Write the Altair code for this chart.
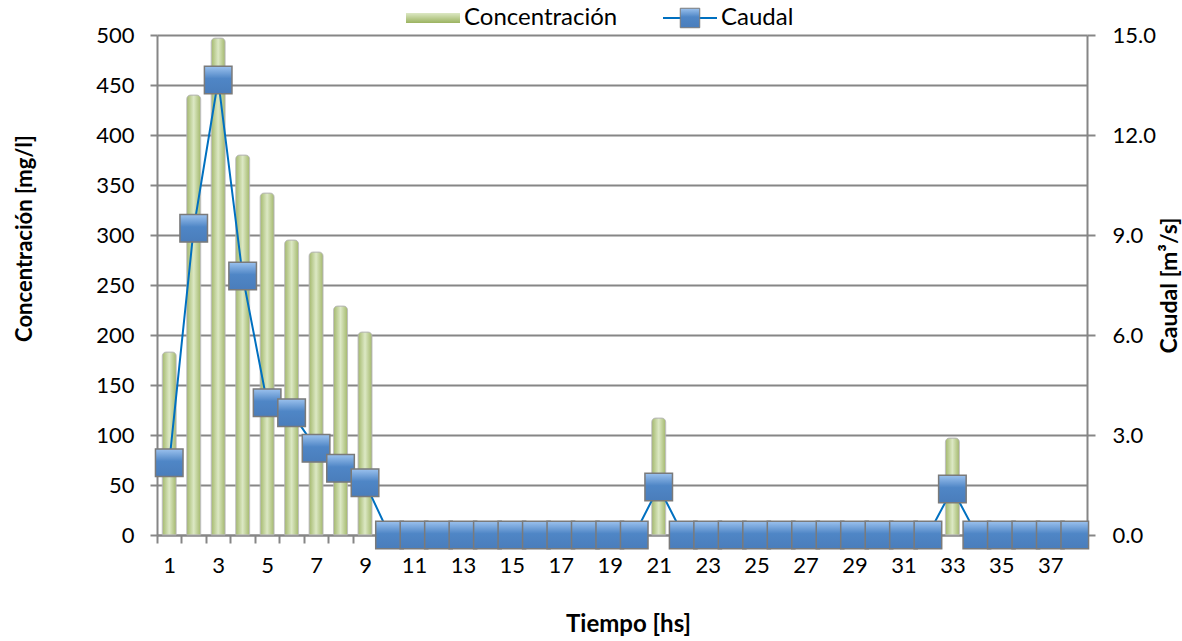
import altair as alt
import pandas as pd

tiempo = list(range(1, 39))
concentracion = [183, 440, 497, 380, 342, 295, 283, 229, 203] + [0] * 11 + [117] + [0] * 11 + [97] + [0] * 5
caudal = [2.17, 9.2, 13.65, 7.77, 3.97, 3.67, 2.6, 2.0, 1.57] + [0] * 11 + [1.44] + [0] * 11 + [1.38] + [0] * 5
conc_ticks = list(range(0, 501, 50))
caudal_ticks = [0, 3, 6, 9, 12, 15]

df = pd.DataFrame({"Tiempo": tiempo, "Concentracion": concentracion, "Caudal": caudal})

FONT = "Lato"
GRID = "#868686"

x_enc = alt.X(
    "Tiempo:O",
    title="Tiempo [hs]",
    scale=alt.Scale(paddingInner=0, paddingOuter=0),
    axis=alt.Axis(
        labelAngle=0, values=tiempo, labelExpr="datum.value % 2 == 1 ? datum.label : ''",
        tickBand="extent", tickSize=8, tickColor=GRID, tickWidth=2,
        domainColor=GRID, domainWidth=2, labelPadding=12,
        titleX=471, titleY=89, titleBaseline="middle", titleAlign="center",
        labelFontSize=22, titleFontSize=24, titleFontWeight="bold",
        labelFont=FONT, titleFont=FONT,
        labelColor="#000", titleColor="#000", grid=False,
    ),
)

bar_fill = alt.Gradient(
    gradient="linear", x1=0, x2=1, y1=0, y2=0,
    stops=[alt.GradientStop(offset=0, color="#a3b86c"),
           alt.GradientStop(offset=0.5, color="#dce8c4"),
           alt.GradientStop(offset=1, color="#a3b86c")],
)
bars = alt.Chart(df).mark_bar(
    size=14, fill=bar_fill, stroke="#b5b5b5", strokeWidth=0.8,
    cornerRadiusTopLeft=4, cornerRadiusTopRight=4,
).encode(
    x=x_enc,
    y=alt.Y(
        "Concentracion:Q", title="Concentración  [mg/l]",
        scale=alt.Scale(domain=[0, 500], nice=False),
        axis=alt.Axis(
            values=conc_ticks, orient="left", grid=True, gridColor=GRID, gridWidth=2,
            tickSize=7, tickColor=GRID, tickWidth=2, domainColor=GRID, domainWidth=2,
            labelPadding=16, labelFontSize=22, titleFontSize=22,
            titleX=-133, titleY=203, titleAngle=270, titleBaseline="middle", titleAlign="center",
            labelFont=FONT, titleFont=FONT,
            titleFontWeight="bold", labelColor="#000", titleColor="#000",
        ),
    ),
)

line = alt.Chart(df).mark_line(color="#0070c0", strokeWidth=2).encode(
    x=x_enc,
    y=alt.Y(
        "Caudal:Q", title="Caudal  [m³/s]",
        scale=alt.Scale(domain=[0, 15], nice=False),
        axis=alt.Axis(
            values=caudal_ticks, orient="right", format=".1f", grid=False,
            tickSize=8, tickColor=GRID, tickWidth=2, domainColor=GRID, domainWidth=2,
            labelPadding=17, labelFontSize=22, titleFontSize=23,
            titleX=82, titleY=250, titleAngle=270, titleBaseline="middle", titleAlign="center",
            labelFont=FONT, titleFont=FONT,
            titleFontWeight="bold", labelColor="#000", titleColor="#000",
        ),
    ),
)

sq_fill = alt.Gradient(
    gradient="linear", x1=0, x2=0, y1=0, y2=1,
    stops=[alt.GradientStop(offset=0, color="#9cc2ee"),
           alt.GradientStop(offset=0.45, color="#4f86c6"),
           alt.GradientStop(offset=1, color="#4a7dbb")],
)
points = alt.Chart(df).mark_point(
    shape="square", size=760, filled=True, fill=sq_fill, opacity=1,
    stroke="#7a7a7a", strokeWidth=1.5,
).encode(x=x_enc, y=alt.Y("Caudal:Q", scale=alt.Scale(domain=[0, 15], nice=False), axis=None))

legend_df = pd.DataFrame({"a": ["Concentración"], "b": ["Caudal"]})
leg_rect = alt.Chart(legend_df).mark_rect(fill=alt.Gradient(
    gradient="linear", x1=0, x2=0, y1=0, y2=1,
    stops=[alt.GradientStop(offset=0, color="#dce8c4"), alt.GradientStop(offset=1, color="#9bb360")],
)).encode(x=alt.value(249), x2=alt.value(303), y=alt.value(-22), y2=alt.value(-12))
leg_text1 = alt.Chart(legend_df).mark_text(
    align="left", baseline="middle", fontSize=24, font=FONT, color="#000"
).encode(x=alt.value(307), y=alt.value(-17), text="a:N")
leg_line = alt.Chart(legend_df).mark_rule(color="#0070c0", strokeWidth=2).encode(
    x=alt.value(506), x2=alt.value(560), y=alt.value(-17))
leg_sq = alt.Chart(legend_df).mark_point(
    shape="square", size=380, filled=True, fill=sq_fill, opacity=1, stroke="#7a7a7a", strokeWidth=1
).encode(x=alt.value(533), y=alt.value(-17))
leg_text2 = alt.Chart(legend_df).mark_text(
    align="left", baseline="middle", fontSize=24, font=FONT, color="#000"
).encode(x=alt.value(564), y=alt.value(-17), text="b:N")

chart = alt.layer(bars, line, points, leg_rect, leg_text1, leg_line, leg_sq, leg_text2).resolve_scale(
    y="independent"
).properties(
    width=930, height=500,
    autosize=alt.AutoSizeParams(type="none"),
    padding={"left": 157, "top": 35, "right": 95, "bottom": 106},
    background="white",
).configure_view(stroke=None)

chart.save("out.html", embed_options={"renderer": "svg", "actions": False})
